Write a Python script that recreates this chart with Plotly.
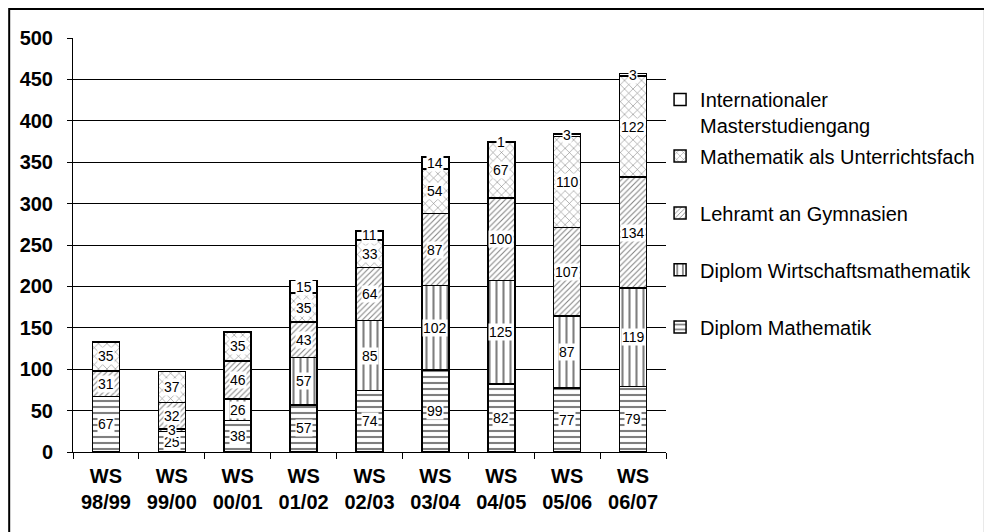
import plotly.graph_objects as go

categories = ["WS<br>98/99", "WS<br>99/00", "WS<br>00/01", "WS<br>01/02", "WS<br>02/03",
              "WS<br>03/04", "WS<br>04/05", "WS<br>05/06", "WS<br>06/07"]
diplom_mathematik = [67, 25, 38, 57, 74, 99, 82, 77, 79]
diplom_wirtschaft = [0, 3, 26, 57, 85, 102, 125, 87, 119]
lehramt_gymnasien = [31, 32, 46, 43, 64, 87, 100, 107, 134]
mathe_unterricht = [35, 37, 35, 35, 33, 54, 67, 110, 122]
international_master = [0, 0, 0, 15, 11, 14, 1, 3, 3]
y_ticks = [0, 50, 100, 150, 200, 250, 300, 350, 400, 450, 500]

FONT = "Arial, Liberation Sans, sans-serif"

series = [
    ("Diplom Mathematik", diplom_mathematik, dict(shape="-", size=6, solidity=0.35), "legend5", 0.302),
    ("Diplom Wirtschaftsmathematik", diplom_wirtschaft, dict(shape="|", size=7, solidity=0.3), "legend4", 0.440),
    ("Lehramt an Gymnasien", lehramt_gymnasien, dict(shape="/", size=4, solidity=0.25), "legend3", 0.577),
    ("Mathematik als Unterrichtsfach", mathe_unterricht, dict(shape="x", size=6, solidity=0.18), "legend2", 0.715),
    ("Internationaler<br>Masterstudiengang", international_master, dict(shape=""), "legend", 0.820),
]

fig = go.Figure()
annotations = []
base = [0] * len(categories)
for name, vals, pat, leg, _ in series:
    fig.add_trace(go.Bar(
        x=categories, y=vals, name=name, legend=leg,
        marker=dict(color="white", line=dict(color="black", width=1.5),
                    pattern=dict(fgcolor="black", bgcolor="white", fillmode="overlay", **pat)),
    ))
    for i, v in enumerate(vals):
        if v > 0:
            annotations.append(dict(x=categories[i], y=base[i] + v / 2, text=str(v),
                                    showarrow=False, bgcolor="white", borderpad=0,
                                    font=dict(family=FONT, size=14, color="black")))
        base[i] += v

layout_legends = {}
for name, vals, pat, leg, ypos in series:
    layout_legends[leg] = dict(
        x=0.99, y=ypos, xanchor="left", yanchor="middle",
        font=dict(family=FONT, size=20, color="black"),
        bgcolor="rgba(0,0,0,0)", itemwidth=30,
        valign="top" if leg == "legend" else "middle",
    )

fig.update_layout(
    barmode="stack",
    bargap=0.59,
    width=984, height=524,
    margin=dict(l=65, r=324, t=30, b=80),
    paper_bgcolor="white", plot_bgcolor="white",
    showlegend=True,
    annotations=annotations,
    shapes=[dict(type="rect", xref="paper", yref="paper",
                 x0=-0.1076, x1=1.5378, y0=-0.25, y1=1.0700,
                 line=dict(color="black", width=2), fillcolor="rgba(0,0,0,0)")],
    **layout_legends,
)
fig.update_yaxes(range=[0, 500], tickvals=y_ticks, showgrid=True, gridcolor="black", gridwidth=1,
                 showline=True, linecolor="black", linewidth=1, ticks="outside", ticklen=5,
                 tickcolor="black", ticklabelstandoff=10, zeroline=False,
                 tickfont=dict(family=FONT, size=20, color="black", weight="bold"))
fig.update_xaxes(showline=True, linecolor="black", linewidth=1, ticks="outside", ticklen=6,
                 tickcolor="black", tickson="boundaries", showgrid=False, ticklabelstandoff=6,
                 tickfont=dict(family=FONT, size=20, color="black", weight="bold"))

fig.write_html("out.html")
